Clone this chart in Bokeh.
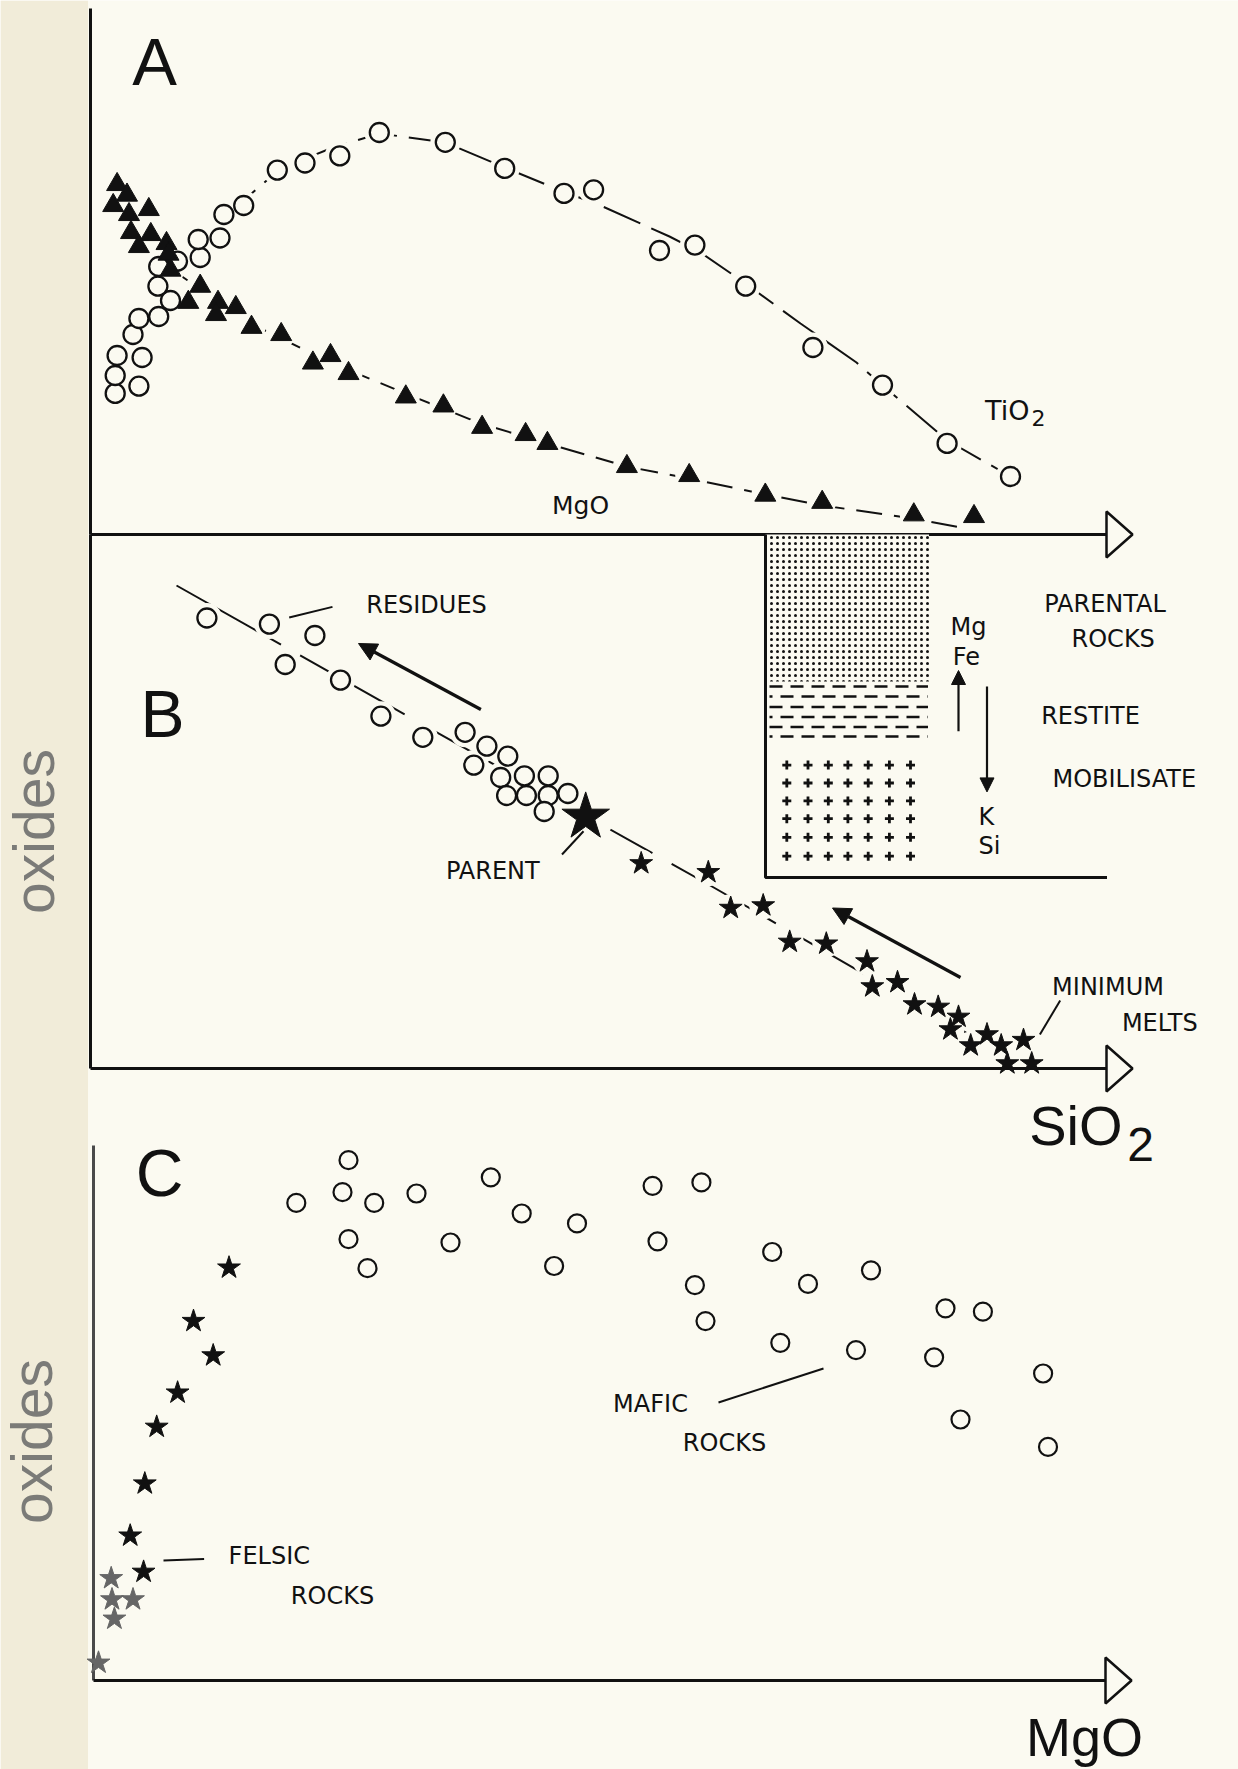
import math
from bokeh.plotting import figure
from bokeh.models import Range1d, Arrow, NormalHead
from bokeh.embed import file_html
from bokeh.resources import INLINE
from bokeh.core.properties import value

# ---------------- DATA (panel-local units, origin at each panel's axis corner) ----------------
# Panel A : oxides vs SiO2
a_tio2_x = [2.47, 2.47, 2.66, 4.84, 5.16, 4.25, 4.84, 6.82, 8.0, 6.74, 6.82, 8.7, 10.97, 10.77, 12.95, 13.34,
            15.32, 18.68, 21.45, 24.93, 28.88, 35.48, 41.42, 47.35, 50.31, 56.9, 60.44, 65.52, 72.24, 79.2,
            85.66, 92.0]
a_tio2_y = [14.11, 15.9, 17.9, 14.83, 17.7, 20.0, 21.6, 21.8, 23.4, 24.83, 26.8, 27.33, 27.7, 29.5, 29.65, 32.0,
            32.9, 36.44, 37.15, 37.86, 40.2, 39.22, 36.61, 34.11, 34.47, 28.4, 28.94, 24.83, 18.7, 14.94,
            9.11, 5.8]
a_tio2_curve_x = [13.3, 15.3, 19.0, 24.0, 28.9, 35.5, 41.4, 47.0, 51.0, 57.9, 61.0, 65.5, 71.0, 76.6, 79.2, 85.7, 92.0]
a_tio2_curve_y = [32.0, 33.4, 36.6, 38.6, 40.1, 39.2, 36.7, 34.4, 32.9, 29.8, 28.2, 25.1, 21.1, 17.2, 14.9, 9.4, 5.8]

a_mgo_x = [2.66, 3.65, 2.27, 5.83, 3.85, 4.05, 6.03, 4.84, 7.6, 7.8, 8.0, 10.97, 9.78, 12.75, 14.53, 12.55,
           16.1, 19.07, 22.24, 24.0, 25.8, 31.53, 35.29, 39.16, 43.51, 45.69, 53.64, 59.87, 67.48, 73.17,
           82.33, 88.35]
a_mgo_y = [35.0, 33.94, 32.9, 32.5, 32.0, 30.2, 30.0, 28.8, 29.1, 28.04, 26.44, 24.83, 23.22, 23.22, 22.7, 22.0,
           20.72, 20.0, 17.15, 17.9, 16.1, 13.76, 12.86, 10.72, 10.0, 9.11, 6.8, 5.9, 3.94, 3.22,
           1.97, 1.8]
a_mgo_curve_x = [9.0, 16.0, 24.0, 31.5, 39.0, 45.7, 53.6, 59.9, 67.5, 73.2, 82.3, 87.0]
a_mgo_curve_y = [25.9, 21.1, 17.2, 14.1, 11.1, 9.1, 6.8, 5.6, 4.0, 2.9, 1.6, 0.7]

# Panel B : oxides vs SiO2 (residues, parent, minimum melts)
b_res_x = [11.64, 17.89, 22.44, 19.47, 25.0, 29.04, 33.23, 37.46, 39.64, 41.73, 38.33, 41.02, 43.39, 45.77,
           41.61, 43.59, 45.77, 47.74, 45.37]
b_res_y = [45.05, 44.44, 43.3, 40.4, 38.84, 35.23, 33.12, 33.62, 32.23, 31.23, 30.34, 29.1, 29.26, 29.26,
           27.3, 27.3, 27.3, 27.5, 25.7]
b_parent_x = [49.52]
b_parent_y = [25.16]
b_melt_x = [55.07, 61.78, 64.02, 67.27, 69.92, 73.58, 77.65, 78.18, 80.7, 82.4, 84.77, 86.8, 85.99, 89.65,
            88.02, 91.07, 93.3, 91.68, 94.12]
b_melt_y = [20.51, 19.62, 16.05, 16.3, 12.66, 12.48, 10.7, 8.2, 8.62, 6.4, 6.16, 5.16, 3.9, 3.4,
            2.3, 2.3, 2.84, 0.5, 0.5]
b_trend_x = [8.6, 32.5, 61.8, 91.7]
b_trend_y = [48.3, 34.8, 18.4, 1.2]

# Panel C : oxides vs MgO
c_mafic_x = [25.5, 20.28, 24.9, 28.07, 32.3, 39.73, 42.82, 48.35, 25.5, 35.7, 27.4, 46.06, 55.91, 60.79,
             56.4, 67.87, 60.14, 71.45, 77.75, 61.2, 68.68, 76.25, 85.2, 88.94, 84.06, 94.96, 86.7, 95.45]
c_mafic_y = [52.03, 47.76, 48.83, 47.76, 48.7, 50.32, 46.7, 45.71, 44.13, 43.8, 41.23, 41.45, 49.47, 49.81,
             43.92, 42.85, 39.53, 39.66, 41.02, 35.94, 33.77, 33.04, 37.22, 36.88, 32.32, 30.7, 26.1, 23.36]
c_felsic_x = [13.55, 10.0, 11.97, 8.41, 6.32, 5.13, 3.67, 5.01]
c_felsic_y = [41.28, 35.94, 32.5, 28.78, 25.36, 19.69, 14.48, 10.86]
c_felsic_grey_x = [1.77, 1.85, 3.95, 2.09, 0.5]
c_felsic_grey_y = [10.22, 8.1, 8.1, 6.17, 1.77]

# Inset (panel B units): melting column
inset_left, inset_right_stipple, inset_right_base = 67.5, 83.85, 101.65
inset_top, stipple_bottom, inset_bottom = 53.4, 38.7, 19.1
restite_rows_y = [38.2, 37.2, 36.15, 35.15, 34.15, 33.2]
restite_x0, restite_x1 = 67.9, 83.75
mobil_cols_x = [69.63, 71.75, 73.78, 75.74, 77.77, 79.89, 82.0]
mobil_rows_y = [30.34, 28.55, 26.76, 24.98, 23.12, 21.23]

# axes (panel-local): top of vertical axis, tip of horizontal axis
axis_top = {"A": 52.6, "B": 53.4, "C": 53.5}
axis_tip = {"A": 104.2, "B": 104.2, "C": 103.8}

# ---------------- LAYOUT / STYLE ----------------
PANEL = {"A": (0.0, 53.4), "B": (0.0, 0.0), "C": (0.3, -61.2)}
CREAM = "#fbfaf1"
BEIGE = "#f1ecd9"
INK = "#111111"
GREY_TXT = "#7b7b78"
HEAD_L, HEAD_H = 2.6, 2.3
X0, X1, Y0, Y1 = -9.0, 114.8, -70.1, 106.8


def gx(panel, xs):
    return [v + PANEL[panel][0] for v in xs]


def gy(panel, ys):
    return [v + PANEL[panel][1] for v in ys]


p = figure(width=1238, height=1769, x_range=Range1d(X0, X1), y_range=Range1d(Y0, Y1),
           output_backend="svg", toolbar_location=None, x_axis_location=None, y_axis_location=None,
           min_border=0, outline_line_color=None, background_fill_color=CREAM, border_fill_color=CREAM)
p.grid.visible = False

# beige scan strip on the left
p.quad(left=[X0], right=[-0.25], bottom=[Y0], top=[Y1], fill_color=BEIGE, line_color=None)

# trend lines
p.line(gx("A", a_tio2_curve_x), gy("A", a_tio2_curve_y), line_color=INK, line_width=2, line_dash="40 12")
p.line(gx("A", a_mgo_curve_x), gy("A", a_mgo_curve_y), line_color=INK, line_width=2, line_dash="26 12")
p.line(gx("B", b_trend_x), gy("B", b_trend_y), line_color=INK, line_width=2, line_dash="120 22")

# halos that break the lines near the symbols
for pn, xs, ys, s in [("A", a_tio2_x, a_tio2_y, 30), ("A", a_mgo_x, a_mgo_y, 28),
                      ("B", b_res_x, b_res_y, 30), ("B", b_melt_x, b_melt_y, 28),
                      ("B", b_parent_x, b_parent_y, 56)]:
    p.scatter(gx(pn, xs), gy(pn, ys), marker="circle", size=s, fill_color=CREAM, line_color=None)

# axes with open arrow heads
for pn in ["A", "B", "C"]:
    vcol = "#4a4a4a" if pn == "C" else INK
    p.line(gx(pn, [0, 0]), gy(pn, [axis_top[pn], 0]), line_color=vcol, line_width=3)
    tip = axis_tip[pn]
    p.line(gx(pn, [0, tip - HEAD_L]), gy(pn, [0, 0]), line_color=INK, line_width=3)
    p.patch(gx(pn, [tip - HEAD_L, tip, tip - HEAD_L]), gy(pn, [HEAD_H, 0, -HEAD_H]),
            fill_color=CREAM, line_color=INK, line_width=2.5)

# inset column
p.quad(left=gx("B", [inset_left]), right=gx("B", [inset_right_stipple]), bottom=gy("B", [stipple_bottom]),
       top=gy("B", [inset_top]), fill_color=CREAM, line_color=None,
       hatch_pattern="dot", hatch_scale=6, hatch_color=INK, hatch_weight=3, hatch_alpha=1.0)
rows_a = restite_rows_y[0::2]
rows_b = restite_rows_y[1::2]
p.multi_line([gx("B", [restite_x0, restite_x1]) for _ in rows_a], [gy("B", [r, r]) for r in rows_a],
             line_color=INK, line_width=2.4, line_dash="13 8")
p.multi_line([gx("B", [restite_x0, restite_x1]) for _ in rows_b], [gy("B", [r, r]) for r in rows_b],
             line_color=INK, line_width=2.4, line_dash="13 8", line_dash_offset=10)
p.line(gx("B", [inset_left, inset_left, inset_right_base]), gy("B", [inset_top, inset_bottom, inset_bottom]),
       line_color=INK, line_width=3)
cx = [c for r in mobil_rows_y for c in mobil_cols_x]
cy = [r for r in mobil_rows_y for c in mobil_cols_x]
p.scatter(gx("B", cx), gy("B", cy), marker="cross", size=9, line_color=INK, line_width=2.8)

# symbols
p.scatter(gx("A", a_tio2_x), gy("A", a_tio2_y), marker="circle", size=19, fill_color=CREAM,
          line_color=INK, line_width=2.3)
p.scatter(gx("A", a_mgo_x), gy("A", a_mgo_y), marker="triangle", size=21, fill_color=INK, line_color=INK)
p.scatter(gx("B", b_res_x), gy("B", b_res_y), marker="circle", size=19, fill_color=CREAM,
          line_color=INK, line_width=2.3)
p.scatter(gx("B", b_melt_x), gy("B", b_melt_y), marker="star", size=24, fill_color=INK, line_color=INK)
p.scatter(gx("B", b_parent_x), gy("B", b_parent_y), marker="star", size=50, fill_color=INK, line_color=INK)
p.scatter(gx("C", c_mafic_x), gy("C", c_mafic_y), marker="circle", size=18, fill_color=CREAM,
          line_color=INK, line_width=2.2)
p.scatter(gx("C", c_felsic_x), gy("C", c_felsic_y), marker="star", size=24, fill_color=INK, line_color=INK)
p.scatter(gx("C", c_felsic_grey_x), gy("C", c_felsic_grey_y), marker="star", size=24,
          fill_color="#666666", line_color="#666666")

# leader lines
leaders = [("B", 19.87, 45.1, 24.2, 46.16), ("B", 47.15, 21.4, 49.3, 23.73), ("B", 96.97, 6.8, 94.94, 3.4),
           ("C", 7.0, 12.0, 11.06, 12.14), ("C", 62.5, 27.8, 73.0, 31.2)]
for pn, x0, y0, x1, y1 in leaders:
    p.segment(gx(pn, [x0]), gy(pn, [y0]), gx(pn, [x1]), gy(pn, [y1]), line_color=INK, line_width=2)

# direction arrows
arrows = [(39.04, 35.9, 26.8, 42.5, 3.2, 18), (87.0, 9.1, 74.2, 16.05, 3.2, 18),
          (86.8, 33.73, 86.8, 39.8, 2.2, 14), (89.65, 38.2, 89.65, 27.66, 2.2, 14)]
for x0, y0, x1, y1, w, hs in arrows:
    p.add_layout(Arrow(end=NormalHead(size=hs, fill_color=INK, line_color=INK), x_start=x0, y_start=y0,
                       x_end=x1, y_end=y1, line_color=INK, line_width=w))

# texts (anchor = middle of the capitals): panel, x, y, text, size, align, font, colour, angle
SANS = "Liberation Sans"
LAB = "DejaVu Sans"
LS = "24px"
texts = [
    ("A", 6.4, 47.31, "A", "67px", "center", SANS, INK, 0),
    ("A", 93.9, 12.42, "TiO", "27px", "right", LAB, INK, 0),
    ("A", 94.1, 11.61, "2", "22px", "left", LAB, INK, 0),
    ("A", 49.0, 2.86, "MgO", "25px", "center", LAB, INK, 0),
    ("B", 7.2, 35.45, "B", "66px", "center", SANS, INK, 0),
    ("B", 33.6, 46.31, "RESIDUES", LS, "center", LAB, INK, 0),
    ("B", 40.23, 19.71, "PARENT", LS, "center", LAB, INK, 0),
    ("B", 101.45, 46.5, "PARENTAL", LS, "center", LAB, INK, 0),
    ("B", 102.27, 42.92, "ROCKS", LS, "center", LAB, INK, 0),
    ("B", 100.0, 35.24, "RESTITE", LS, "center", LAB, INK, 0),
    ("B", 103.38, 29.0, "MOBILISATE", LS, "center", LAB, INK, 0),
    ("B", 101.75, 8.2, "MINIMUM", LS, "center", LAB, INK, 0),
    ("B", 106.93, 4.53, "MELTS", LS, "center", LAB, INK, 0),
    ("B", 87.8, 44.2, "Mg", LS, "center", LAB, INK, 0),
    ("B", 87.6, 41.14, "Fe", LS, "center", LAB, INK, 0),
    ("B", 88.8, 25.17, "K", LS, "left", LAB, INK, 0),
    ("B", 88.8, 22.3, "Si", LS, "left", LAB, INK, 0),
    ("B", 103.2, -5.7, "SiO", "56px", "right", SANS, INK, 0),
    ("B", 103.67, -7.62, "2", "48px", "left", SANS, INK, 0),
    ("B", -5.68, 23.7, "oxides", "57px", "center", SANS, GREY_TXT, math.pi / 2),
    ("C", 6.6, 50.75, "C", "66px", "center", SANS, INK, 0),
    ("C", 17.58, 12.46, "FELSIC", LS, "center", LAB, INK, 0),
    ("C", 23.9, 8.42, "ROCKS", LS, "center", LAB, INK, 0),
    ("C", 55.7, 27.62, "MAFIC", LS, "center", LAB, INK, 0),
    ("C", 63.1, 23.76, "ROCKS", LS, "center", LAB, INK, 0),
    ("C", 99.1, -5.67, "MgO", "54px", "center", SANS, INK, 0),
    ("C", -6.14, 23.9, "oxides", "57px", "center", SANS, GREY_TXT, math.pi / 2),
]
for pn, x, y, t, fs, al, fnt, col, ang in texts:
    p.text(gx(pn, [x]), gy(pn, [y]), text=[t], text_font=value(fnt), text_font_size=fs, text_align=al,
           text_baseline="middle", text_color=col, angle=ang)

open("out.html", "w").write(file_html(p, INLINE))
